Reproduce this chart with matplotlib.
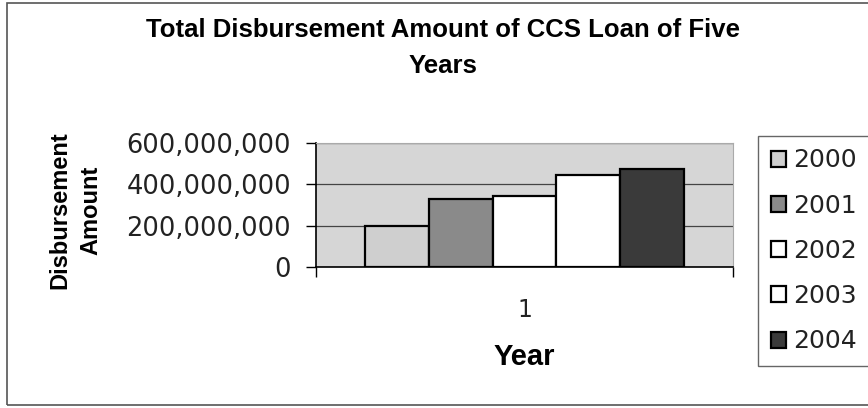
import numpy as np
import matplotlib
matplotlib.use("Agg")
import matplotlib.pyplot as plt
from matplotlib.patches import Rectangle
from matplotlib.ticker import FuncFormatter

years = ["2000", "2001", "2002", "2003", "2004"]
amounts = [200_000_000, 330_000_000, 342_000_000, 445_000_000, 473_000_000]
bar_colors = ["#cfcfcf", "#8a8a8a", "#ffffff", "#ffffff", "#3a3a3a"]
yticks = [0, 200_000_000, 400_000_000, 600_000_000]

fig = plt.figure(figsize=(8.68, 4.08), dpi=100)
ax = fig.add_axes([316 / 868, 141 / 408, 417 / 868, 124 / 408])
ax.set_facecolor("#d6d6d6")

w = 0.16
offsets = (np.arange(len(years)) - 2) * w
for off, val, col, lab in zip(offsets, amounts, bar_colors, years):
    ax.bar(1 + off, val, width=w, color=col, edgecolor="black", linewidth=1.6,
           label=lab, zorder=3)

ax.set_xlim(1 - 0.523, 1 + 0.523)
ax.set_ylim(0, 600_000_000)
ax.set_yticks(yticks)
ax.yaxis.set_major_formatter(FuncFormatter(lambda v, p: f"{int(v):,}"))
ax.grid(axis="y", color="#444444", linewidth=0.9, zorder=1)
ax.set_axisbelow(True)

ax.set_xticks([1])
ax.set_xticklabels(["1"])
ax.set_xticks([1 - 0.523, 1 + 0.523], minor=True)
ax.tick_params(axis="x", which="major", length=0, pad=22, labelsize=17)
ax.tick_params(axis="x", which="minor", length=7, width=1, direction="out")
ax.tick_params(axis="y", length=7, width=1, direction="out", pad=11, labelsize=18.5)
for lbl in ax.get_yticklabels() + ax.get_xticklabels():
    lbl.set_fontfamily("DejaVu Sans")
    lbl.set_color("#222222")

for s in ["top", "right"]:
    ax.spines[s].set_color("#aaaaaa")
    ax.spines[s].set_linewidth(0.8)
for s in ["left", "bottom"]:
    ax.spines[s].set_color("black")
    ax.spines[s].set_linewidth(1.2)

ax.set_xlabel("Year", fontsize=21, fontweight="bold", family="Liberation Sans",
              va="center")
ax.xaxis.set_label_coords((524 - 316) / 417, (267 - 357.5) / 124)

fig.text(75 / 868, 1 - 210 / 408, "Disbursement\nAmount", rotation=90,
         ha="center", va="center", multialignment="center",
         fontsize=17, fontweight="bold", family="Liberation Sans",
         linespacing=1.45)

fig.text(443 / 868, 1 - 48 / 408,
         "Total Disbursement Amount of CCS Loan of Five\nYears",
         ha="center", va="center", fontsize=18.5, fontweight="bold",
         family="Liberation Sans", linespacing=1.6)

leg = fig.legend(loc="upper left", bbox_to_anchor=(758 / 868, 1 - 136 / 408),
                 prop={"family": "DejaVu Sans", "size": 18},
                 handlelength=0.6, handleheight=0.6, handletextpad=0.3,
                 labelspacing=0.85, borderpad=0.5, borderaxespad=0,
                 fancybox=False, edgecolor="#666666", framealpha=1)
leg.get_frame().set_linewidth(1.0)
for t in leg.get_texts():
    t.set_color("#222222")

fig.add_artist(Rectangle((7 / 868, 3 / 408), 1.0, 402 / 408,
                         transform=fig.transFigure, fill=False,
                         edgecolor="#555555", linewidth=1.2))

fig.savefig("out.png", dpi=100)
